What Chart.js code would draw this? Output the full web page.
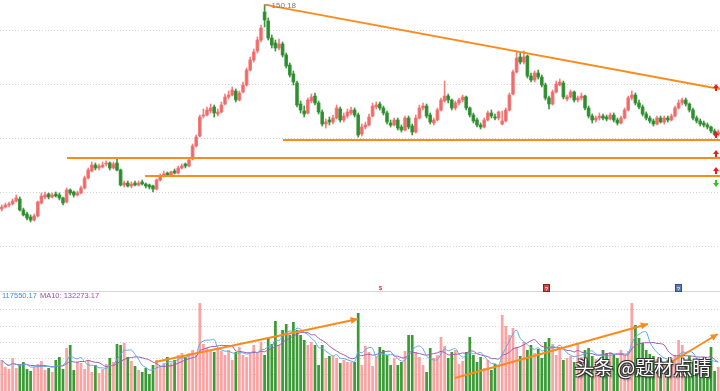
<!DOCTYPE html>
<html>
<head>
<meta charset="utf-8">
<script src="https://cdn.jsdelivr.net/npm/chart.js@4.4.1/dist/chart.umd.min.js"></script>
<style>
body { margin: 0; background: #fff; width: 720px; height: 391px; overflow: hidden; position: relative; font-family: "Liberation Sans", Arial, sans-serif; }
#priceBox { position: absolute; left: 0; top: 0; width: 720px; height: 285px; }
#volBox { position: absolute; left: 0; top: 300px; width: 720px; height: 91px; }
.sep { position: absolute; left: 0; top: 291px; width: 720px; height: 1px; background: #d6d6d6; }
.volInfo { position: absolute; left: 2px; top: 292px; font-size: 7.5px; line-height: 8px; white-space: nowrap; }
.volInfo .ma5 { color: #3d8fd8; }
.volInfo .ma10 { color: #9b4fae; margin-left: 3px; }
.mark { position: absolute; top: 284px; width: 7px; height: 8px; font-size: 6px; line-height: 8px; text-align: center; }
.watermark { position: absolute; left: 575px; top: 353px; font-family: "Noto Sans CJK SC", sans-serif; font-size: 19px; color: #fff;
  text-shadow: 1px 1px 0 #333, -1px -1px 0 #333, 1px -1px 0 #333, -1px 1px 0 #333, 2px 2px 2px rgba(0,0,0,0.5); white-space: nowrap; }
</style>
</head>
<body>
<div id="priceBox"><canvas id="priceChart" width="720" height="285"></canvas></div>
<div class="sep"></div>
<div class="volInfo"><span class="ma5">117550.17</span><span class="ma10">MA10: 132273.17</span></div>
<div class="mark" style="left:377px;color:#e03030;font-weight:bold;">$</div>
<div class="mark" style="left:543px;background:#c84848;color:#fff;border:1px solid #902020;box-sizing:border-box;">?</div>
<div class="mark" style="left:675px;background:#5a7ab0;color:#fff;border:1px solid #34508a;box-sizing:border-box;">?</div>
<div id="volBox"><canvas id="volChart" width="720" height="91"></canvas></div>
<div class="watermark">头条 @题材点睛</div>
<script>
const opens = [
  48.0,49.0,50.0,50.5,52.0,53.0,47.5,45.5,44.0,42.5,
  44.5,51.0,54.0,55.5,54.0,55.5,55.0,53.5,51.5,57.5,
  56.5,55.0,56.0,58.5,63.5,67.0,70.0,68.5,69.0,70.5,
  71.0,68.5,71.0,67.5,60.0,61.0,59.5,61.0,60.0,61.5,
  60.5,60.0,59.5,58.0,62.5,64.5,66.0,65.0,67.0,66.0,
  68.5,70.5,69.5,73.0,79.5,84.5,94.5,95.0,97.0,99.0,
  95.5,96.5,100.5,104.0,105.0,107.0,102.5,106.5,110.0,117.5,
  122.5,127.0,132.5,146.5,142.0,133.5,131.0,128.5,130.5,125.0,
  120.0,115.5,111.0,100.5,97.0,96.0,102.0,104.5,101.0,96.5,
  90.5,92.5,91.5,93.5,98.0,92.5,94.5,96.0,97.5,95.0,
  85.5,89.0,90.0,94.5,99.0,100.5,98.5,96.0,91.0,90.0,
  92.5,89.0,87.5,93.5,89.5,86.5,93.5,98.5,99.5,95.0,
  91.0,92.5,97.5,102.0,104.5,102.5,98.5,101.0,102.5,104.0,
  98.5,95.0,92.5,90.0,89.0,92.5,96.0,94.0,93.5,90.5,
  92.0,97.5,105.5,116.5,124.0,121.5,124.5,114.5,112.5,116.0,
  114.0,110.0,103.5,100.5,106.5,110.0,111.0,103.0,104.0,106.5,
  102.5,103.5,104.5,98.5,94.5,92.5,93.5,94.5,94.0,93.0,
  95.0,92.5,91.0,93.5,97.5,103.5,105.0,101.0,99.0,95.5,
  93.5,92.0,90.5,93.5,91.5,93.5,92.5,94.5,98.5,101.0,
  102.5,100.5,97.5,93.5,92.0,91.0,90.0,89.0,87.0,85.5
];
const closes = [
  49.0,50.0,50.5,52.0,53.5,47.5,45.0,43.5,42.5,44.5,
  51.5,54.5,55.0,54.0,55.0,54.5,53.5,51.0,57.5,56.0,
  55.0,56.0,58.5,63.5,67.5,70.0,68.5,69.5,70.0,71.0,
  68.5,70.5,67.5,60.0,61.0,59.5,60.5,60.0,61.0,60.5,
  59.5,59.0,58.0,62.5,64.5,65.5,65.0,66.5,66.0,68.5,
  69.5,69.5,72.5,79.5,84.0,94.0,95.0,97.5,98.5,96.0,
  96.5,100.0,104.0,105.0,107.5,102.5,106.0,110.0,117.5,122.5,
  126.5,132.5,138.5,142.5,133.5,130.0,128.5,130.5,125.0,119.5,
  115.0,111.5,100.0,97.5,95.5,102.5,104.0,101.0,96.5,90.5,
  91.5,91.5,93.5,98.5,92.5,94.5,96.5,97.5,95.0,85.0,
  89.0,90.0,94.0,99.5,100.0,98.5,96.0,91.5,90.0,92.5,
  88.5,87.5,93.5,89.0,86.5,93.5,98.5,99.5,94.5,91.5,
  92.5,97.5,102.5,104.5,102.5,98.5,101.0,102.5,104.0,98.5,
  95.0,92.0,90.0,89.0,92.5,96.0,94.5,93.5,96.5,92.0,
  97.5,105.0,116.5,123.5,121.5,124.0,114.5,112.5,116.0,114.0,
  110.0,103.5,100.5,106.5,110.5,111.5,104.0,104.0,106.5,102.5,
  103.5,104.5,98.5,94.5,92.5,93.5,94.5,93.5,93.0,95.0,
  92.5,91.0,93.5,97.5,103.5,105.0,101.0,99.0,95.5,93.5,
  92.0,90.5,93.5,91.5,93.5,92.5,94.5,98.5,101.0,102.5,
  100.5,97.5,93.5,92.0,90.5,90.0,89.0,87.0,85.5,86.5
];
const highs = [
  50.0,51.0,51.5,53.0,55.0,54.0,48.5,46.5,45.0,45.5,
  52.0,56.0,56.5,56.0,56.0,56.5,56.0,54.0,58.5,58.0,
  57.0,57.0,59.5,64.5,68.5,71.5,71.0,70.5,71.5,72.0,
  71.5,71.5,73.5,68.0,62.0,62.0,61.5,62.0,62.0,62.5,
  61.0,60.5,60.0,63.0,65.5,67.0,66.5,67.0,68.0,69.5,
  70.5,71.0,73.0,80.5,85.0,95.0,98.0,99.0,100.5,100.0,
  98.0,101.5,105.5,107.0,109.0,108.0,107.0,111.5,118.5,124.0,
  128.0,134.0,140.0,150.18,143.5,135.0,132.5,133.0,131.5,126.0,
  121.0,117.0,112.0,102.0,99.5,103.5,105.5,106.0,102.0,97.5,
  93.0,94.0,95.0,100.0,99.0,96.0,98.0,99.0,98.5,96.0,
  90.5,91.5,95.5,101.0,101.5,101.5,99.5,97.0,92.5,93.5,
  93.5,90.0,94.5,94.5,90.5,95.0,100.0,101.0,100.5,96.0,
  93.5,98.5,103.5,112.0,105.5,103.0,102.0,103.5,105.0,104.5,
  99.0,96.0,93.5,91.0,93.5,97.0,97.5,95.5,97.0,97.0,
  98.5,106.0,117.5,127.0,126.0,127.0,125.0,116.0,117.0,117.5,
  115.0,111.0,104.5,107.5,112.0,113.0,112.0,105.0,107.5,107.0,
  104.5,106.0,105.0,99.5,95.5,94.5,96.0,95.5,95.0,96.0,
  96.0,93.5,94.5,98.5,104.5,107.0,106.0,102.5,100.0,96.5,
  94.5,93.0,94.5,94.5,94.5,94.5,95.5,99.5,102.5,103.5,
  103.5,101.0,98.5,94.5,93.0,92.0,91.0,89.5,88.0,87.5
];
const lows = [
  47.0,48.5,49.0,50.0,51.5,47.0,44.5,42.5,41.5,42.0,
  44.0,50.5,53.0,53.0,53.5,54.0,52.5,50.0,51.0,55.0,
  54.0,54.5,55.5,58.0,63.0,66.5,67.5,67.5,68.5,69.5,
  67.5,68.0,67.0,59.5,59.0,59.0,58.5,59.5,59.5,60.0,
  58.5,58.0,56.5,57.5,62.0,64.0,64.5,64.5,65.5,65.5,
  68.0,68.5,69.0,72.5,79.0,84.0,93.5,94.5,96.0,94.0,
  94.5,96.0,100.0,103.0,104.5,101.5,102.0,106.0,109.5,117.0,
  121.5,126.0,131.5,139.0,132.5,128.5,127.0,127.5,124.0,118.5,
  114.0,110.0,99.0,96.0,94.0,95.5,101.0,100.0,95.5,89.5,
  88.5,90.0,90.5,93.0,91.5,91.5,93.5,95.0,94.0,84.0,
  84.5,88.0,89.5,94.0,98.0,97.5,95.0,90.5,89.0,89.5,
  87.5,86.5,87.0,88.0,85.0,86.0,93.0,97.5,93.5,90.5,
  90.0,92.0,97.0,101.5,101.0,97.5,97.5,100.0,101.5,97.5,
  94.0,91.0,89.0,88.0,88.5,92.0,93.5,92.5,92.5,90.0,
  91.5,97.0,105.0,116.0,120.5,120.5,113.5,111.5,111.5,113.0,
  109.0,102.5,98.0,100.0,106.0,109.5,103.0,102.0,103.5,101.5,
  101.5,102.5,97.5,93.5,91.0,91.5,92.5,92.5,92.0,92.5,
  91.5,90.0,90.5,93.0,97.0,102.5,100.0,98.0,94.5,92.5,
  91.0,89.5,90.0,91.0,90.5,91.5,92.0,94.0,98.0,100.0,
  99.5,96.5,92.5,91.0,89.5,89.0,88.0,86.0,84.5,84.5
];
const volumes = [
  124000,96000,88000,132000,92000,104000,116000,88000,80000,96000,
  108000,120000,84000,92000,76000,124000,136000,88000,172000,184000,
  84000,116000,112000,88000,124000,76000,104000,72000,88000,108000,
  132000,116000,188000,184000,192000,136000,120000,100000,84000,76000,
  92000,68000,104000,124000,100000,112000,136000,112000,124000,144000,
  152000,136000,152000,164000,144000,352000,188000,172000,164000,156000,
  172000,160000,144000,164000,124000,156000,176000,144000,136000,152000,
  184000,156000,196000,144000,212000,188000,280000,184000,244000,268000,
  224000,276000,244000,224000,204000,184000,196000,184000,104000,184000,
  132000,140000,140000,132000,112000,124000,116000,116000,116000,312000,
  104000,180000,156000,100000,136000,176000,164000,144000,104000,132000,
  104000,116000,160000,224000,224000,156000,136000,104000,76000,172000,
  132000,144000,216000,180000,132000,156000,164000,108000,120000,156000,
  216000,144000,116000,136000,92000,124000,84000,108000,104000,304000,
  260000,224000,252000,176000,140000,196000,164000,184000,152000,168000,
  132000,196000,212000,188000,144000,176000,124000,132000,140000,116000,
  192000,136000,164000,172000,140000,128000,112000,164000,152000,156000,
  148000,132000,164000,144000,160000,352000,264000,212000,192000,164000,
  148000,140000,128000,132000,112000,124000,120000,144000,204000,184000,
  120000,140000,116000,100000,108000,124000,104000,176000,80000,96000
];
const days = opens.map((_, i) => String(i + 1));
const priceTicks = [137.5, 110.5, 83.5, 56.5, 29.5];
const volTicks = [65000, 130000, 195000, 260000, 325000];
const peakIndex = 73;

// trend lines, in (candle index, price) / (candle index, volume)
const priceLines = [
  { from: [73, 150.18], to: [199.5, 108.0] },
  { from: [78.1, 82.5], to: [199.5, 82.5] },
  { from: [18.1, 73.5], to: [199.5, 73.5] },
  { from: [39.8, 64.5], to: [199.5, 64.5] }
];
const volLines = [
  { from: [42.6, 116000], to: [98.9, 288000] },
  { from: [125.9, 52000], to: [179.5, 268000] },
  { from: [185.1, 108000], to: [198.9, 228000] }
];
const upSignals = [108.5, 85.0, 75.5, 67.0];
const downSignals = [61.0];

const RED = 'rgba(240,96,96,0.8)', GREEN = 'rgba(42,140,42,0.9)';
const VOL_RED = '#f9a3a3', VOL_GREEN = '#3b9a35';
const isUp = opens.map((o, i) => closes[i] >= o);

function movingAvg(arr, n) {
  return arr.map((_, i) => {
    const part = arr.slice(Math.max(0, i - n + 1), i + 1);
    return part.reduce((s, v) => s + v, 0) / part.length;
  });
}

function drawArrowHead(ctx, x1, y1, x2, y2, size) {
  const a = Math.atan2(y2 - y1, x2 - x1);
  ctx.beginPath();
  ctx.moveTo(x2, y2);
  ctx.lineTo(x2 - size * Math.cos(a - 0.45), y2 - size * Math.sin(a - 0.45));
  ctx.lineTo(x2 - size * Math.cos(a + 0.45), y2 - size * Math.sin(a + 0.45));
  ctx.closePath();
  ctx.fill();
}

const trendPlugin = {
  id: 'trend',
  afterDatasetsDraw(chart, args, opts) {
    const { ctx, scales: { x, y } } = chart;
    ctx.save();
    ctx.strokeStyle = '#ff8a1c';
    ctx.fillStyle = '#ff8a1c';
    ctx.lineWidth = 2;
    (opts.lines || []).forEach(l => {
      const x1 = x.getPixelForValue(l.from[0]), y1 = y.getPixelForValue(l.from[1]);
      const x2 = x.getPixelForValue(l.to[0]), y2 = y.getPixelForValue(l.to[1]);
      ctx.beginPath();
      ctx.moveTo(x1, y1);
      ctx.lineTo(x2, y2);
      ctx.stroke();
      if (opts.arrows) drawArrowHead(ctx, x1, y1, x2, y2, 8);
    });
    if (opts.peak) {
      const px = x.getPixelForValue(peakIndex), py = y.getPixelForValue(highs[peakIndex]);
      ctx.strokeStyle = '#999';
      ctx.lineWidth = 1;
      ctx.beginPath();
      ctx.moveTo(px, py + 0.5);
      ctx.lineTo(px + 6, py + 0.5);
      ctx.stroke();
      ctx.fillStyle = '#7a7a7a';
      ctx.font = '8px "Liberation Sans", Arial';
      ctx.textBaseline = 'middle';
      ctx.fillText(highs[peakIndex].toFixed(2), px + 7, py + 1.5);
    }
    if (opts.signals) {
      const cx = chart.chartArea.right - 4;
      const arrow = (cy, dir, color) => {
        ctx.fillStyle = color;
        ctx.beginPath();
        ctx.moveTo(cx, cy - 4 * dir);
        ctx.lineTo(cx - 3, cy);
        ctx.lineTo(cx + 3, cy);
        ctx.closePath();
        ctx.fill();
        ctx.fillRect(cx - 1, dir > 0 ? cy : cy - 3, 2, 3);
      };
      upSignals.forEach(v => arrow(y.getPixelForValue(v), 1, '#ee1c1c'));
      downSignals.forEach(v => arrow(y.getPixelForValue(v), -1, '#22cc22'));
    }
    ctx.restore();
  }
};

const hiddenX = { display: false, offset: true, grid: { display: false } };
function gridY(min, max, ticks) {
  return {
    min: min, max: max,
    afterBuildTicks: s => { s.ticks = ticks.map(v => ({ value: v })); },
    afterFit: s => { s.width = 0; },
    ticks: { display: false },
    grid: { color: '#d2d2d2', drawTicks: false, lineWidth: 1 },
    border: { display: false, dash: [1, 2] }
  };
}

new Chart(document.getElementById('priceChart'), {
  type: 'bar',
  data: {
    labels: days,
    datasets: [
      {
        data: lows.map((l, i) => [l, highs[i]]),
        backgroundColor: isUp.map(u => u ? RED : GREEN),
        barThickness: 1,
        grouped: false,
        order: 2
      },
      {
        data: opens.map((o, i) => [o, closes[i]]),
        backgroundColor: isUp.map(u => u ? RED : GREEN),
        barThickness: 3,
        minBarLength: 1,
        grouped: false,
        order: 1
      }
    ]
  },
  options: {
    responsive: false,
    animation: false,
    devicePixelRatio: 1,
    layout: { padding: 0 },
    plugins: {
      legend: { display: false },
      tooltip: { enabled: false },
      trend: { lines: priceLines, peak: true, signals: true }
    },
    scales: { x: hiddenX, y: gridY(10, 152.5, priceTicks) }
  },
  plugins: [trendPlugin]
});

new Chart(document.getElementById('volChart'), {
  type: 'bar',
  data: {
    labels: days,
    datasets: [
      {
        type: 'line',
        data: movingAvg(volumes, 5),
        borderColor: '#5aa9ea',
        borderWidth: 1,
        pointRadius: 0,
        tension: 0.35,
        order: 1
      },
      {
        type: 'line',
        data: movingAvg(volumes, 10),
        borderColor: '#a457b4',
        borderWidth: 1,
        pointRadius: 0,
        tension: 0.35,
        order: 1
      },
      {
        data: volumes,
        backgroundColor: isUp.map(u => u ? VOL_RED : VOL_GREEN),
        barPercentage: 0.75,
        categoryPercentage: 1,
        order: 3
      }
    ]
  },
  options: {
    responsive: false,
    animation: false,
    devicePixelRatio: 1,
    layout: { padding: 0 },
    plugins: {
      legend: { display: false },
      tooltip: { enabled: false },
      trend: { lines: volLines, arrows: true }
    },
    scales: { x: hiddenX, y: gridY(0, 364000, volTicks) }
  },
  plugins: [trendPlugin]
});
</script>
</body>
</html>
